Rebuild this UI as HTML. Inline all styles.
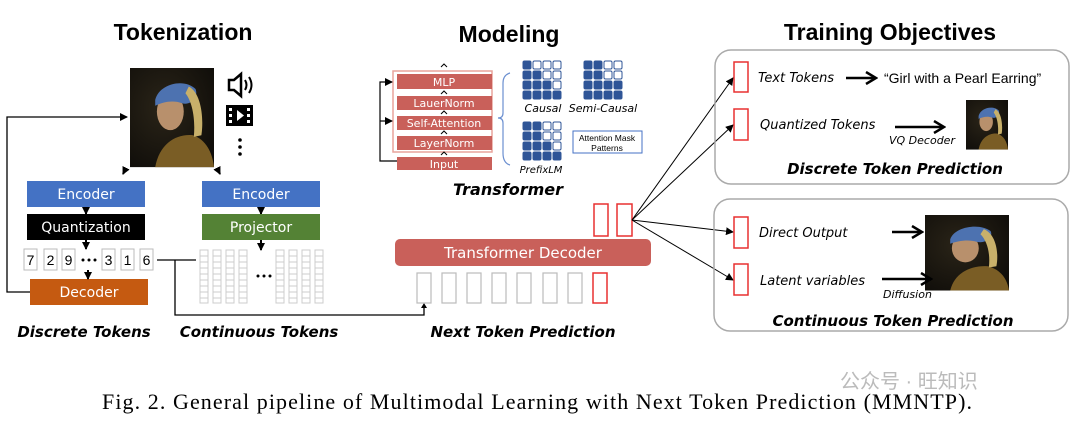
<!DOCTYPE html>
<html><head><meta charset="utf-8"><style>
body{margin:0;background:#fff;width:1080px;height:425px;overflow:hidden}
svg{display:block}
.t{font-family:"Liberation Sans",sans-serif}
.bi{font-family:"DejaVu Sans","Liberation Sans",sans-serif;font-weight:bold;font-style:italic}
.it{font-family:"DejaVu Sans","Liberation Sans",sans-serif;font-style:italic}
.w{font-family:"DejaVu Sans","Liberation Sans",sans-serif;fill:#fff}
</style></head><body>
<svg width="1080" height="425" viewBox="0 0 1080 425" xmlns="http://www.w3.org/2000/svg">
<defs>
<marker id="a" markerWidth="8" markerHeight="8" refX="7" refY="4" orient="auto" markerUnits="userSpaceOnUse"><path d="M0,0L8,4L0,8z" fill="#000"/></marker>
<marker id="b" markerWidth="14" markerHeight="14" refX="12" refY="7" orient="auto" markerUnits="userSpaceOnUse"><path d="M2,1L12,7L2,13" fill="none" stroke="#000" stroke-width="2.5"/></marker>
<radialGradient id="bg" cx="0.4" cy="0.4" r="0.8"><stop offset="0" stop-color="#2a2418"/><stop offset="1" stop-color="#0d0b08"/></radialGradient>
<g id="paint">
<rect x="0" y="0" width="100" height="118" fill="url(#bg)"/>
<path d="M30,118 C35,90 55,78 75,80 C90,85 98,100 100,118Z" fill="#7a5d25"/>
<ellipse cx="48" cy="52" rx="16" ry="22" fill="#b8906c"/>
<path d="M30,38 C35,18 65,12 78,25 C82,35 72,45 62,42 C52,38 40,40 30,45Z" fill="#4d72b0"/>
<path d="M70,22 C85,30 88,60 85,80 L76,82 C78,60 74,40 66,30Z" fill="#c8b06a"/>
</g>
</defs>

<text x="183" y="40" text-anchor="middle" class="t" font-size="23" font-weight="bold">Tokenization</text>
<text x="509" y="42" text-anchor="middle" class="t" font-size="23" font-weight="bold">Modeling</text>
<text x="890" y="40" text-anchor="middle" class="t" font-size="23" font-weight="bold">Training Objectives</text>

<use href="#paint" transform="translate(130,68) scale(0.84,0.84)"/>
<path d="M229,80h5l7,-6v22l-7,-6h-5z" fill="none" stroke="#000" stroke-width="2.5"/>
<path d="M245,80q3,5 0,10M249,77q5,8 0,16" fill="none" stroke="#000" stroke-width="2"/>
<rect x="226" y="105" width="27" height="21" fill="#000"/>
<rect x="229" y="108" width="3" height="3" fill="#fff"/><rect x="229" y="114" width="3" height="3" fill="#fff"/><rect x="229" y="120" width="3" height="3" fill="#fff"/>
<rect x="247" y="108" width="3" height="3" fill="#fff"/><rect x="247" y="114" width="3" height="3" fill="#fff"/><rect x="247" y="120" width="3" height="3" fill="#fff"/>
<path d="M237,110l7,5.5l-7,5.5z" fill="#fff"/>
<circle cx="240" cy="140" r="1.8"/><circle cx="240" cy="147" r="1.8"/><circle cx="240" cy="154" r="1.8"/>
<path d="M126,168l-3,6" stroke="#000" stroke-width="2" marker-end="url(#a)"/>
<path d="M217,168l3,6" stroke="#000" stroke-width="2" marker-end="url(#a)"/>

<rect x="27" y="181" width="118" height="26" fill="#4472c4"/>
<text x="86" y="199" text-anchor="middle" class="w" font-size="14">Encoder</text>
<rect x="27" y="214" width="118" height="26" fill="#000"/>
<text x="86" y="232" text-anchor="middle" class="w" font-size="14">Quantization</text>
<rect x="30" y="279" width="118" height="26" fill="#c55a11"/>
<text x="89" y="297" text-anchor="middle" class="w" font-size="14">Decoder</text>
<g stroke="#000" stroke-width="2" marker-end="url(#a)">
<path d="M86,207v7"/><path d="M86,240v9"/><path d="M88,270v9"/>
<path d="M261,207v7"/><path d="M261,240v10"/>
</g>
<g fill="#fff" stroke="#bbb"><rect x="24" y="249" width="13" height="21"/><rect x="44" y="249" width="13" height="21"/><rect x="62" y="249" width="13" height="21"/><rect x="102" y="249" width="13" height="21"/><rect x="121" y="249" width="13" height="21"/><rect x="140" y="249" width="13" height="21"/></g>
<g class="t" font-size="14" text-anchor="middle"><text x="30.5" y="265">7</text><text x="50.5" y="265">2</text><text x="68.5" y="265">9</text><text x="108.5" y="265">3</text><text x="127.5" y="265">1</text><text x="146.5" y="265">6</text></g>
<circle cx="83" cy="260" r="1.5"/><circle cx="89" cy="260" r="1.5"/><circle cx="95" cy="260" r="1.5"/>

<rect x="202" y="181" width="118" height="26" fill="#4472c4"/>
<text x="261" y="199" text-anchor="middle" class="w" font-size="14">Encoder</text>
<rect x="202" y="214" width="118" height="26" fill="#548235"/>
<text x="261" y="232" text-anchor="middle" class="w" font-size="14">Projector</text>
<g fill="none" stroke="#ccc" stroke-width="1">
<g id="col"><rect x="200" y="250" width="8" height="53"/><path d="M200,256h8M200,262h8M200,268h8M200,274h8M200,280h8M200,286h8M200,292h8M200,298h8"/></g>
<use href="#col" x="13"/><use href="#col" x="26"/><use href="#col" x="39"/>
<use href="#col" x="76"/><use href="#col" x="89"/><use href="#col" x="102"/><use href="#col" x="115"/>
</g>
<circle cx="258" cy="276" r="1.5"/><circle cx="264" cy="276" r="1.5"/><circle cx="270" cy="276" r="1.5"/>

<g fill="none" stroke="#000" stroke-width="1.3">
<path d="M157,260h39M175,260v55h249v-10"/>
<path d="M30,292h-23v-175h120" marker-end="url(#a)"/>
</g>
<path d="M424,303l-3,5h6z"/>
<text x="84" y="337" text-anchor="middle" class="bi" font-size="15">Discrete Tokens</text>
<text x="259" y="337" text-anchor="middle" class="bi" font-size="15">Continuous Tokens</text>

<rect x="393" y="71" width="99" height="81" fill="none" stroke="#e8a49c" stroke-width="1.5"/>
<g fill="#c9605a">
<rect x="397" y="74" width="95" height="15"/><rect x="397" y="96" width="95" height="14"/><rect x="397" y="116" width="95" height="14"/><rect x="397" y="136" width="95" height="14"/><rect x="397" y="157" width="95" height="13"/>
</g>
<g class="w" font-size="11" text-anchor="middle"><text x="444" y="86">MLP</text><text x="444" y="107">LauerNorm</text><text x="444" y="127">Self-Attention</text><text x="444" y="147">LayerNorm</text><text x="444" y="168">Input</text></g>
<g fill="none" stroke="#000" stroke-width="1"><path d="M441,67l3,-3l3,3M441,94l3,-3l3,3M441,114l3,-3l3,3M441,134l3,-3l3,3M441,155l3,-3l3,3"/></g>
<path d="M397,161h-17v-79h12" fill="none" stroke="#000" stroke-width="1.2" marker-end="url(#a)"/>
<path d="M380,121h12" stroke="#000" stroke-width="1.2" marker-end="url(#a)"/>
<path d="M510,73q-7,2 -7,10v30q0,5 -5,5q5,0 5,5v30q0,10 7,12" fill="none" stroke="#6b8fd0" stroke-width="1.2"/>
<g stroke="#2f5597" stroke-width="1">
<g fill="#2f5597"><rect x="523" y="61" width="8" height="8" rx="1.5"/><rect x="523" y="71" width="8" height="8" rx="1.5"/><rect x="533" y="71" width="8" height="8" rx="1.5"/><rect x="523" y="81" width="8" height="8" rx="1.5"/><rect x="533" y="81" width="8" height="8" rx="1.5"/><rect x="543" y="81" width="8" height="8" rx="1.5"/><rect x="523" y="91" width="8" height="8" rx="1.5"/><rect x="533" y="91" width="8" height="8" rx="1.5"/><rect x="543" y="91" width="8" height="8" rx="1.5"/><rect x="553" y="91" width="8" height="8" rx="1.5"/></g>
<g fill="#fff"><rect x="533" y="61" width="8" height="8" rx="1.5"/><rect x="543" y="61" width="8" height="8" rx="1.5"/><rect x="553" y="61" width="8" height="8" rx="1.5"/><rect x="543" y="71" width="8" height="8" rx="1.5"/><rect x="553" y="71" width="8" height="8" rx="1.5"/><rect x="553" y="81" width="8" height="8" rx="1.5"/></g>
<g fill="#2f5597"><rect x="584" y="61" width="8" height="8" rx="1.5"/><rect x="594" y="61" width="8" height="8" rx="1.5"/><rect x="584" y="71" width="8" height="8" rx="1.5"/><rect x="594" y="71" width="8" height="8" rx="1.5"/><rect x="584" y="81" width="8" height="8" rx="1.5"/><rect x="594" y="81" width="8" height="8" rx="1.5"/><rect x="604" y="81" width="8" height="8" rx="1.5"/><rect x="614" y="81" width="8" height="8" rx="1.5"/><rect x="584" y="91" width="8" height="8" rx="1.5"/><rect x="594" y="91" width="8" height="8" rx="1.5"/><rect x="604" y="91" width="8" height="8" rx="1.5"/><rect x="614" y="91" width="8" height="8" rx="1.5"/></g>
<g fill="#fff"><rect x="604" y="61" width="8" height="8" rx="1.5"/><rect x="614" y="61" width="8" height="8" rx="1.5"/><rect x="604" y="71" width="8" height="8" rx="1.5"/><rect x="614" y="71" width="8" height="8" rx="1.5"/></g>
<g fill="#2f5597"><rect x="523" y="122" width="8" height="8" rx="1.5"/><rect x="533" y="122" width="8" height="8" rx="1.5"/><rect x="523" y="132" width="8" height="8" rx="1.5"/><rect x="533" y="132" width="8" height="8" rx="1.5"/><rect x="523" y="142" width="8" height="8" rx="1.5"/><rect x="533" y="142" width="8" height="8" rx="1.5"/><rect x="543" y="142" width="8" height="8" rx="1.5"/><rect x="523" y="152" width="8" height="8" rx="1.5"/><rect x="533" y="152" width="8" height="8" rx="1.5"/><rect x="543" y="152" width="8" height="8" rx="1.5"/><rect x="553" y="152" width="8" height="8" rx="1.5"/></g>
<g fill="#fff"><rect x="543" y="122" width="8" height="8" rx="1.5"/><rect x="553" y="122" width="8" height="8" rx="1.5"/><rect x="543" y="132" width="8" height="8" rx="1.5"/><rect x="553" y="132" width="8" height="8" rx="1.5"/><rect x="553" y="142" width="8" height="8" rx="1.5"/></g>
</g>
<text x="543" y="112" text-anchor="middle" class="it" font-size="11">Causal</text>
<text x="603" y="112" text-anchor="middle" class="it" font-size="11">Semi-Causal</text>
<text x="541" y="173" text-anchor="middle" class="it" font-size="10">PrefixLM</text>
<rect x="573" y="131" width="69" height="22" fill="#fff" stroke="#4472c4"/>
<text x="607" y="141" text-anchor="middle" class="t" font-size="8.5">Attention Mask</text>
<text x="607" y="151" text-anchor="middle" class="t" font-size="8.5">Patterns</text>
<text x="508" y="195" text-anchor="middle" class="bi" font-size="16">Transformer</text>

<g fill="none" stroke="#e83030" stroke-width="1.5"><rect x="594" y="204" width="14" height="32"/><rect x="617" y="204" width="15" height="32"/></g>
<rect x="395" y="239" width="256" height="27" rx="5" fill="#c9605a"/>
<text x="523" y="258" text-anchor="middle" class="w" font-size="15">Transformer Decoder</text>
<g fill="none" stroke="#bbb" stroke-width="1.2"><rect x="417" y="273" width="14" height="30"/><rect x="442" y="273" width="14" height="30"/><rect x="467" y="273" width="14" height="30"/><rect x="492" y="273" width="14" height="30"/><rect x="517" y="273" width="14" height="30"/><rect x="543" y="273" width="14" height="30"/><rect x="568" y="273" width="14" height="30"/></g>
<rect x="593" y="273" width="14" height="30" fill="none" stroke="#e83030" stroke-width="1.5"/>
<text x="523" y="337" text-anchor="middle" class="bi" font-size="15">Next Token Prediction</text>

<g stroke="#000" stroke-width="1" marker-end="url(#a)">
<path d="M632,220L733,78"/><path d="M632,220L733,125"/><path d="M632,220L733,232"/><path d="M632,220L733,280"/>
</g>

<rect x="715" y="50" width="354" height="134" rx="16" fill="none" stroke="#aaa" stroke-width="1.5"/>
<rect x="714" y="199" width="354" height="132" rx="16" fill="none" stroke="#aaa" stroke-width="1.5"/>
<g fill="none" stroke="#e83030" stroke-width="1.5"><rect x="734" y="62" width="14" height="30"/><rect x="734" y="109" width="14" height="31"/><rect x="734" y="217" width="14" height="31"/><rect x="734" y="264" width="14" height="31"/></g>
<text x="758" y="82" class="it" font-size="13">Text Tokens</text>
<path d="M846,78h30" stroke="#000" stroke-width="2.5" marker-end="url(#b)"/>
<text x="884" y="83" class="t" font-size="14">“Girl with a Pearl Earring”</text>
<text x="760" y="129" class="it" font-size="13">Quantized Tokens</text>
<path d="M895,127h49" stroke="#000" stroke-width="2.5" marker-end="url(#b)"/>
<text x="889" y="144" class="it" font-size="11">VQ Decoder</text>
<use href="#paint" transform="translate(966,100) scale(0.42,0.42)"/>
<text x="895" y="174" text-anchor="middle" class="bi" font-size="15">Discrete Token Prediction</text>
<text x="759" y="237" class="it" font-size="13">Direct Output</text>
<path d="M892,232h30" stroke="#000" stroke-width="2.5" marker-end="url(#b)"/>
<use href="#paint" transform="translate(925,215) scale(0.84,0.64)"/>
<text x="760" y="285" class="it" font-size="13">Latent variables</text>
<path d="M882,279h49" stroke="#000" stroke-width="2.5" marker-end="url(#b)"/>
<text x="883" y="298" class="it" font-size="11">Diffusion</text>
<text x="893" y="326" text-anchor="middle" class="bi" font-size="15">Continuous Token Prediction</text>

<text x="840" y="388" font-family="'Liberation Sans','Noto Sans CJK SC',sans-serif" font-size="20" fill="#bbb">公众号 · 旺知识</text>
<text x="102" y="409" font-family="'Liberation Serif',serif" font-size="22" textLength="870" lengthAdjust="spacing">Fig. 2.  General pipeline of Multimodal Learning with Next Token Prediction (MMNTP).</text>
</svg>
</body></html>
